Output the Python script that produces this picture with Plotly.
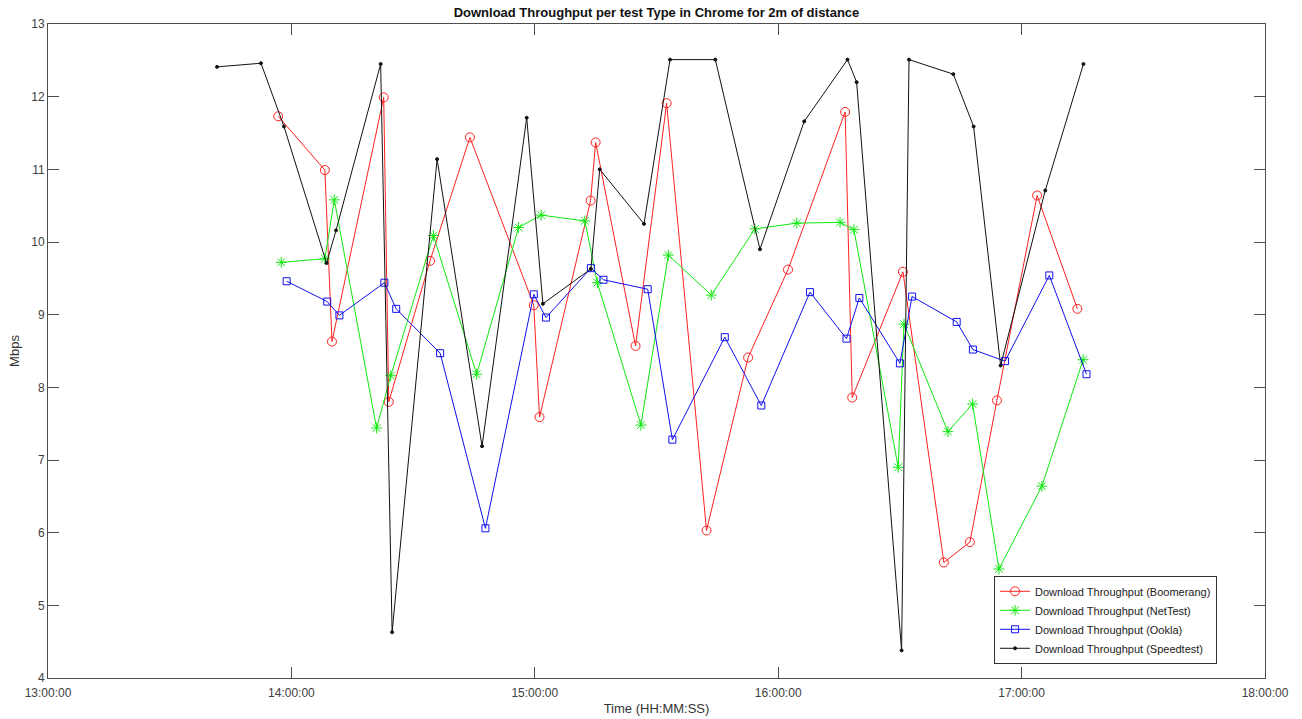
import plotly.graph_objects as go

DAY = "2020-01-01 "

boom_t = ["13:56:45", "14:08:15", "14:10:00", "14:22:45", "14:24:00", "14:34:10", "14:44:00",
          "14:59:45", "15:01:10", "15:13:45", "15:15:00", "15:24:50", "15:32:30", "15:42:20",
          "15:52:35", "16:02:25", "16:16:30", "16:18:15", "16:30:45", "16:40:50", "16:47:15",
          "16:53:55", "17:03:50", "17:13:45"]
boom_v = [11.73, 10.99, 8.63, 11.99, 7.80, 9.74, 11.44, 9.13, 7.59, 10.57, 11.37, 8.57, 11.91,
          6.03, 8.41, 9.62, 11.79, 7.86, 9.59, 5.59, 5.87, 7.82, 10.64, 9.08]

net_t = ["13:57:30", "14:08:15", "14:10:35", "14:21:00", "14:24:30", "14:35:00", "14:45:40",
         "14:56:00", "15:01:35", "15:12:20", "15:15:25", "15:26:10", "15:32:55", "15:43:30",
         "15:54:15", "16:04:35", "16:15:15", "16:18:40", "16:29:35", "16:31:00", "16:41:50",
         "16:47:55", "16:54:25", "17:05:00", "17:15:10"]
net_v = [9.72, 9.77, 10.58, 7.44, 8.16, 10.09, 8.18, 10.20, 10.37, 10.29, 9.44, 7.48, 9.82,
         9.27, 10.18, 10.26, 10.27, 10.17, 6.90, 8.87, 7.39, 7.77, 5.50, 6.64, 8.38]

ookla_t = ["13:58:50", "14:08:50", "14:11:50", "14:22:55", "14:25:50", "14:36:40", "14:47:50",
           "14:59:45", "15:02:45", "15:13:50", "15:16:55", "15:27:50", "15:33:55", "15:46:50",
           "15:55:50", "16:07:50", "16:16:50", "16:20:00", "16:30:00", "16:33:00", "16:44:00",
           "16:48:00", "16:55:55", "17:06:50", "17:16:00"]
ookla_v = [9.46, 9.18, 8.99, 9.44, 9.08, 8.47, 6.06, 9.28, 8.96, 9.64, 9.48, 9.35, 7.28, 8.69,
           7.75, 9.31, 8.67, 9.23, 8.33, 9.25, 8.90, 8.52, 8.36, 9.54, 8.18]

speed_t = ["13:41:40", "13:52:30", "13:58:10", "14:08:40", "14:11:00", "14:22:00", "14:24:50",
           "14:35:55", "14:47:00", "14:58:00", "15:02:00", "15:13:50", "15:16:00", "15:26:55",
           "15:33:20", "15:44:30", "15:55:30", "16:06:25", "16:17:05", "16:19:20", "16:30:25",
           "16:32:15", "16:43:10", "16:48:10", "16:54:50", "17:05:50", "17:15:15"]
speed_v = [12.41, 12.46, 11.59, 9.71, 10.16, 12.45, 4.63, 11.14, 7.19, 11.71, 9.15, 9.63, 11.00,
           10.25, 12.51, 12.51, 9.90, 11.66, 12.51, 12.20, 4.38, 12.51, 12.31, 11.59, 8.30,
           10.71, 12.45]

x_ticks = ["13:00:00", "14:00:00", "15:00:00", "16:00:00", "17:00:00", "18:00:00"]
y_ticks = [4, 5, 6, 7, 8, 9, 10, 11, 12, 13]

series = [
    ("Download Throughput (Boomerang)", boom_t, boom_v, "#ff2020", "circle-open", 9),
    ("Download Throughput (NetTest)", net_t, net_v, "#10e810", "asterisk-open", 9),
    ("Download Throughput (Ookla)", ookla_t, ookla_v, "#1010ee", "square-open", 7),
    ("Download Throughput (Speedtest)", speed_t, speed_v, "#111111", "circle", 3),
]

fig = go.Figure()
for name, t, v, col, sym, size in series:
    fig.add_trace(go.Scatter(
        x=[DAY + s for s in t], y=v, name=name, mode="lines+markers",
        line=dict(color=col, width=1),
        marker=dict(symbol=sym, size=size, color=col, line=dict(color=col, width=1)),
    ))

axis_common = dict(showline=True, linecolor="#4d4d4d", linewidth=1, mirror="ticks",
                   ticks="inside", tickcolor="#4d4d4d", showgrid=False, zeroline=False,
                   automargin=False,
                   tickfont=dict(family="Liberation Sans, Arial", size=12, color="#404040"))

fig.update_layout(
    width=1302, height=719,
    margin=dict(l=48, r=37, t=24, b=41),
    paper_bgcolor="white", plot_bgcolor="white",
    title=dict(text="<b>Download Throughput per test Type in Chrome for 2m of distance</b>",
               x=0.5, xref="paper", y=0.983, yanchor="middle",
               font=dict(family="Liberation Sans, Arial", size=13, color="#111")),
    xaxis=dict(type="date", range=[DAY + x_ticks[0], DAY + x_ticks[-1]],
               tickvals=[DAY + s for s in x_ticks], ticktext=x_ticks, ticklen=11,
               ticklabelstandoff=4,
               title=dict(text="Time (HH:MM:SS)", standoff=4,
                          font=dict(family="Liberation Sans, Arial", size=13, color="#333")),
               **axis_common),
    yaxis=dict(range=[y_ticks[0], y_ticks[-1]], tickvals=y_ticks, ticklen=11,
               title=dict(text="Mbps", standoff=8,
                          font=dict(family="Liberation Sans, Arial", size=13, color="#333")),
               **axis_common),
    legend=dict(x=0.9606, y=0.089, xanchor="right", yanchor="middle",
                bgcolor="white", bordercolor="#333", borderwidth=1,
                font=dict(family="Liberation Sans, Arial", size=11, color="#222"),
                tracegroupgap=0, itemwidth=30),
    showlegend=True,
)

fig.write_html("out.html")
